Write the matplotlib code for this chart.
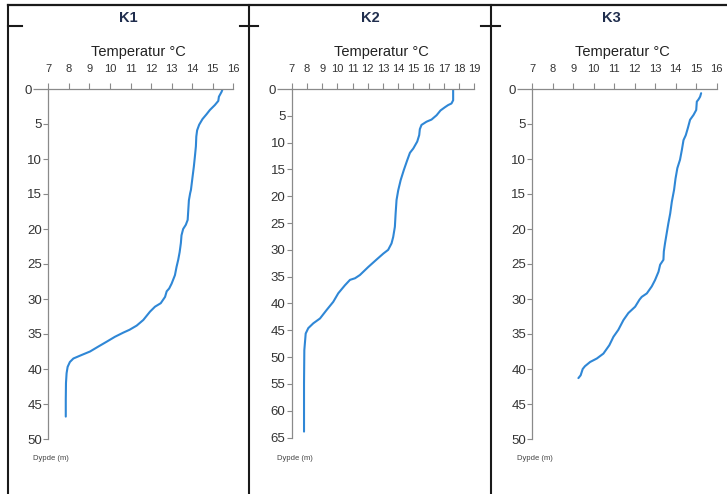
import matplotlib
matplotlib.use("Agg")
import matplotlib.pyplot as plt
from matplotlib.lines import Line2D

W, H = 727, 494

# ---------------- data ----------------
panel_titles = ["K1", "K2", "K3"]
x_label = "Temperatur °C"
y_label = "Dypde (m)"

k1_depth = [0.0, 0.4, 1.1, 1.7, 2.3, 3.0, 3.6, 4.3, 5.1, 5.9, 6.8, 8.2, 9.7, 11.1, 12.5,
            14.4, 14.9, 15.9, 17.3, 18.7, 19.4, 20.0, 20.9, 22.0, 23.3, 24.4, 25.4, 26.6,
            27.8, 28.5, 28.9, 29.7, 30.6, 31.1, 31.8, 33.0, 33.8, 34.4, 34.8, 35.4, 36.1,
            36.8, 37.5, 38.0, 38.5, 39.0, 39.7, 40.6, 42.0, 44.4, 46.8]
k1_temp = [15.48, 15.43, 15.30, 15.27, 15.10, 14.86, 14.70, 14.50, 14.34, 14.24, 14.20,
           14.18, 14.13, 14.08, 14.02, 13.94, 13.90, 13.84, 13.81, 13.78, 13.69, 13.56,
           13.48, 13.45, 13.39, 13.32, 13.24, 13.16, 13.00, 12.88, 12.76, 12.68, 12.47,
           12.19, 11.95, 11.62, 11.30, 10.95, 10.65, 10.24, 9.84, 9.43, 9.03, 8.62, 8.22,
           8.05, 7.94, 7.89, 7.86, 7.85, 7.85]

k2_depth = [0.0, 2.1, 2.7, 3.0, 3.4, 4.0, 4.9, 5.7, 6.1, 6.7, 7.5, 8.6, 9.8, 11.1, 11.9,
            13.3, 15.1, 17.0, 18.9, 20.7, 23.2, 25.7, 27.6, 28.8, 30.0, 30.7, 31.8, 33.2,
            34.7, 35.3, 35.6, 36.6, 38.1, 39.7, 41.2, 42.8, 43.7, 44.6, 45.6, 48.7, 54.9, 63.9]
k2_temp = [17.61, 17.61, 17.50, 17.28, 17.07, 16.78, 16.52, 16.19, 15.86, 15.53, 15.42,
           15.38, 15.25, 14.99, 14.77, 14.59, 14.37, 14.16, 14.00, 13.89, 13.83, 13.78,
           13.67, 13.56, 13.34, 13.02, 12.58, 12.03, 11.48, 11.16, 10.83, 10.50, 10.06,
           9.73, 9.30, 8.86, 8.42, 8.09, 7.92, 7.83, 7.81, 7.81]

k3_depth = [0.6, 1.1, 1.5, 1.8, 3.0, 3.7, 4.4, 5.6, 6.6, 7.3, 8.7, 10.1, 11.3, 12.8, 14.4,
            16.1, 17.8, 19.2, 20.6, 22.0, 23.2, 24.4, 25.1, 26.1, 27.3, 28.2, 29.2, 29.7,
            30.1, 31.1, 32.0, 33.0, 34.4, 35.4, 36.6, 37.8, 38.5, 39.0, 39.6, 40.0, 40.9, 41.3]
k3_temp = [15.24, 15.19, 15.11, 15.03, 15.00, 14.87, 14.70, 14.59, 14.49, 14.38, 14.30,
           14.21, 14.08, 13.99, 13.92, 13.81, 13.73, 13.64, 13.56, 13.48, 13.42, 13.40,
           13.24, 13.16, 12.99, 12.83, 12.59, 12.34, 12.23, 12.02, 11.69, 11.45, 11.20,
           10.96, 10.76, 10.47, 10.15, 9.82, 9.57, 9.46, 9.36, 9.25]

k1_xticks = list(range(7, 17))
k2_xticks = list(range(7, 20))
k3_xticks = list(range(7, 17))
k1_yticks = list(range(0, 51, 5))
k2_yticks = list(range(0, 66, 5))
k3_yticks = list(range(0, 51, 5))

# ---------------- figure ----------------
FONT = ["Liberation Sans Narrow", "Liberation Sans", "DejaVu Sans"]

fig = plt.figure(figsize=(W / 100, H / 100), dpi=100)
fig.patch.set_facecolor("white")


def fx(x):
    return x / W


def fy(y):
    return 1 - y / H


def vline(x, y0, y1, lw=1.5):
    fig.add_artist(Line2D([fx(x), fx(x)], [fy(y0), fy(y1)], transform=fig.transFigure,
                          color="#1a1a1a", lw=lw))


def hline(y, x0, x1, lw=1.5):
    fig.add_artist(Line2D([fx(x0), fx(x1)], [fy(y), fy(y)], transform=fig.transFigure,
                          color="#1a1a1a", lw=lw))


# table borders
hline(5, 7.5, 727, lw=1.6)
vline(8, 5, 494)
vline(249, 5, 494)
vline(490.5, 5, 494)
hline(26, 8, 22)
hline(26, 240, 258)
hline(26, 481, 500)

panels = [
    dict(title=panel_titles[0], depth=k1_depth, temp=k1_temp, xt=k1_xticks, yt=k1_yticks,
         rect=(48.3, 233.3, 89, 439), tx=128.5, xlx=138.5, dyx=33),
    dict(title=panel_titles[1], depth=k2_depth, temp=k2_temp, xt=k2_xticks, yt=k2_yticks,
         rect=(291.7, 474.3, 89, 437.5), tx=370, xlx=381, dyx=277),
    dict(title=panel_titles[2], depth=k3_depth, temp=k3_temp, xt=k3_xticks, yt=k3_yticks,
         rect=(532.3, 716.7, 89, 439), tx=611.5, xlx=622, dyx=517),
]

axis_col = "#8a8a8a"
for p in panels:
    l, r, t, b = p["rect"]
    ax = fig.add_axes([fx(l), fy(b), (r - l) / W, (b - t) / H])
    ax.plot(p["temp"], p["depth"], color="#2f87d6", lw=1.5, solid_capstyle="round")
    ax.set_xlim(p["xt"][0], p["xt"][-1])
    ax.set_ylim(p["yt"][-1], p["yt"][0])
    ax.set_xticks(p["xt"])
    # the 0 tick is drawn longer (axis line continues left of the y axis)
    ax.set_yticks(p["yt"][1:])
    ax.set_yticks(p["yt"][:1], minor=True)
    ax.set_yticklabels([str(v) for v in p["yt"][:1]], minor=True)
    ax.xaxis.tick_top()
    for s in ["bottom", "right"]:
        ax.spines[s].set_visible(False)
    for s in ["top", "left"]:
        ax.spines[s].set_color(axis_col)
        ax.spines[s].set_linewidth(0.9)
    ax.tick_params(axis="x", direction="out", length=4, width=0.8, color=axis_col,
                   pad=6.5, labelsize=8, labelcolor="#333333")
    ax.tick_params(axis="y", which="major", direction="out", length=3.5, width=0.8,
                   color=axis_col, pad=1.0, labelsize=9.5, labelcolor="#333333")
    ax.tick_params(axis="y", which="minor", direction="out", length=10.5, width=0.9,
                   color=axis_col, pad=1.0, labelsize=9.5, labelcolor="#333333")
    for lab in (ax.get_xticklabels() + ax.get_yticklabels()
                + ax.get_yticklabels(minor=True)):
        lab.set_family(FONT)
    ax.patch.set_visible(False)

    fig.text(fx(p["tx"]), fy(18), p["title"], ha="center", va="center", fontsize=10.5,
             fontweight="bold", color="#1f2d4d", family=FONT[1:])
    fig.text(fx(p["xlx"]), fy(52), x_label, ha="center", va="center", fontsize=10.5,
             color="#222222", family=FONT)
    fig.text(fx(p["dyx"]), fy(458), y_label, ha="left", va="center", fontsize=5.5,
             color="#444444", family=FONT)

fig.savefig("out.png", dpi=100, facecolor="white")
